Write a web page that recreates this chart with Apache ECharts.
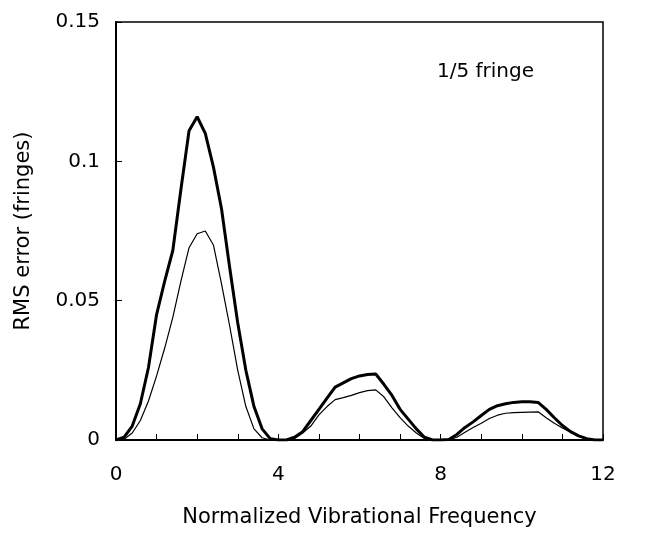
<!DOCTYPE html>
<html>
<head>
<meta charset="utf-8">
<script src="https://cdn.jsdelivr.net/npm/echarts@6/dist/echarts.min.js"></script>
<style>
  html, body { margin: 0; padding: 0; background: #fff; }
  #chart { width: 649px; height: 533px; }
</style>
</head>
<body>
<div id="chart"></div>
<script>
// normalized vibrational frequency, sampled every 0.2
var freqs = [
  0, 0.2, 0.4, 0.6, 0.8, 1, 1.2, 1.4, 1.6, 1.8,
  2, 2.2, 2.4, 2.6, 2.8, 3, 3.2, 3.4, 3.6, 3.8,
  4, 4.2, 4.4, 4.6, 4.8, 5, 5.2, 5.4, 5.6, 5.8,
  6, 6.2, 6.4, 6.6, 6.8, 7, 7.2, 7.4, 7.6, 7.8,
  8, 8.2, 8.4, 8.6, 8.8, 9, 9.2, 9.4, 9.6, 9.8,
  10, 10.2, 10.4, 10.6, 10.8, 11, 11.2, 11.4, 11.6, 11.8,
  12
];
// heavy curve
var rmsThick = [
  0, 0.001, 0.005, 0.013, 0.026, 0.045, 0.057, 0.068, 0.09, 0.111,
  0.116, 0.110, 0.098, 0.083, 0.062, 0.042, 0.025, 0.012, 0.004, 0.0005,
  0, 0, 0.001, 0.003, 0.007, 0.011, 0.015, 0.019, 0.0205, 0.022,
  0.023, 0.0235, 0.0237, 0.020, 0.016, 0.011, 0.0075, 0.004, 0.001, 0,
  0, 0.0002, 0.002, 0.0045, 0.0065, 0.0088, 0.011, 0.0123, 0.013, 0.0135,
  0.0137, 0.0137, 0.0135, 0.011, 0.008, 0.0052, 0.003, 0.0015, 0.0005, 0,
  0
];
// light curve
var rmsThin = [
  0, 0.0003, 0.0025, 0.007, 0.014, 0.023, 0.033, 0.044, 0.057, 0.069,
  0.074, 0.075, 0.070, 0.056, 0.041, 0.025, 0.012, 0.004, 0.0008, 0,
  0, 0, 0.0005, 0.0025, 0.005, 0.009, 0.012, 0.0145, 0.0152, 0.016,
  0.017, 0.0177, 0.018, 0.0155, 0.0115, 0.008, 0.005, 0.0025, 0.0005, 0,
  0, 0, 0.001, 0.0028, 0.0045, 0.006, 0.0077, 0.0089, 0.0096, 0.0098,
  0.0099, 0.01, 0.0101, 0.008, 0.006, 0.0043, 0.0028, 0.0013, 0.0004, 0,
  0
];

function pairs(ys) {
  return freqs.map(function (x, i) { return [x, ys[i]]; });
}

var font = 'DejaVu Sans';
var chart = echarts.init(document.getElementById('chart'));
chart.setOption({
  backgroundColor: '#fff',
  animation: false,
  textStyle: { fontFamily: font, color: '#000' },
  grid: {
    left: 116, top: 22, right: 46, bottom: 93,
    show: true, borderColor: '#000', borderWidth: 1.5
  },
  graphic: [{
    type: 'text', left: 437, top: 62,
    style: { text: '1/5 fringe', font: '20px "DejaVu Sans"', fill: '#000' }
  }],
  xAxis: {
    type: 'value', min: 0, max: 12, interval: 4,
    name: 'Normalized Vibrational Frequency',
    nameLocation: 'middle', nameGap: 67,
    nameTextStyle: { fontSize: 21, color: '#000', fontFamily: font },
    axisLine: { lineStyle: { color: '#000', width: 2 } },
    axisTick: { inside: true, length: 6, lineStyle: { color: '#000' } },
    minorTick: { show: true, splitNumber: 4, length: 6, lineStyle: { color: '#000' } },
    splitLine: { show: false },
    axisLabel: { margin: 25, fontSize: 20, color: '#000', fontFamily: font }
  },
  yAxis: {
    type: 'value', min: 0, max: 0.15, interval: 0.05,
    name: 'RMS error (fringes)',
    nameLocation: 'middle', nameGap: 82,
    nameTextStyle: { fontSize: 21, color: '#000', fontFamily: font },
    axisLine: { lineStyle: { color: '#000', width: 2 } },
    axisTick: { inside: true, length: 6, lineStyle: { color: '#000' } },
    splitLine: { show: false },
    axisLabel: { margin: 16, fontSize: 20, color: '#000', fontFamily: font }
  },
  series: [
    {
      type: 'line', data: pairs(rmsThin), showSymbol: false,
      lineStyle: { color: '#000', width: 1.2 }
    },
    {
      type: 'line', data: pairs(rmsThick), showSymbol: false,
      lineStyle: { color: '#000', width: 3 }
    }
  ]
});
</script>
</body>
</html>
